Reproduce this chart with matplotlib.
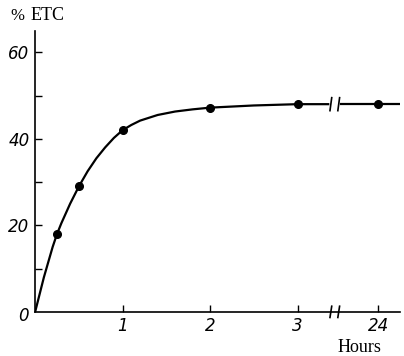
import numpy as np
import matplotlib.pyplot as plt

# measured points (hours, % ETC); 24 h is drawn after the axis break
hours = [0.25, 0.5, 1, 2, 3, 24]
etc = [18, 29, 42, 47, 48, 48]

# smooth curve
curve_h = [0, 0.05, 0.1, 0.15, 0.2, 0.25, 0.3, 0.4, 0.5, 0.6, 0.7, 0.8,
           0.9, 1, 1.1, 1.2, 1.4, 1.6, 1.8, 2, 2.5, 3, 3.35]
curve_etc = [0, 4, 8, 11.5, 15, 18, 20.5, 25, 29, 32.5, 35.5, 38, 40.2,
             42, 43.2, 44.2, 45.5, 46.3, 46.8, 47.2, 47.7, 48, 48]
tail_h = [3.5, 24, 26]
tail_etc = [48, 48, 48]

x_ticks = [1, 2, 3, 24]
x_labels = ['1', '2', '3', '24']
y_ticks = [20, 40, 60]
y_minor = [10, 30, 50]

POS24 = 3.92  # where 24 h sits on the broken axis


def xpos(h):
    # map hours to axis position (break between 3 and 24)
    h = np.asarray(h, dtype=float)
    return np.where(h <= 3.5, h, POS24 + (h - 24) * 0.12)


def main():
    fig = plt.figure(figsize=(4.04, 3.56), dpi=100)
    ax = fig.add_axes([0.087, 0.124, 0.903, 0.79])
    ax.set_xlim(0, 4.17)
    ax.set_ylim(0, 65)

    for s in ['top', 'right']:
        ax.spines[s].set_visible(False)
    for s in ['left', 'bottom']:
        ax.spines[s].set_linewidth(1.2)

    ax.plot(xpos(curve_h), curve_etc, 'k-', lw=1.6)
    ax.plot(xpos(tail_h), tail_etc, 'k-', lw=1.6)
    ax.plot(xpos(hours), etc, 'ko', ms=5.5)

    # break marks on the curve and the axis
    for xb in (3.38, 3.47):
        ax.plot([xb - 0.01, xb + 0.01], [46.5, 49.5], 'k-', lw=1.2)
        ax.plot([xb - 0.01, xb + 0.01], [-1.3, 1.3], 'k-', lw=1.2,
                clip_on=False)

    ax.set_xticks(xpos(x_ticks))
    ax.set_xticklabels(x_labels)
    ax.set_yticks(y_ticks)
    ax.set_yticks(y_minor, minor=True)
    ax.tick_params(direction='in', length=5, width=1, labelsize=12, pad=4)
    ax.tick_params(which='minor', direction='in', length=5, width=1)
    for lab in ax.get_xticklabels() + ax.get_yticklabels():
        lab.set_fontstyle('italic')
        lab.set_family('Liberation Sans Narrow')

    fig.text(0.045, 0.098, '0', fontsize=12, style='italic',
             family='Liberation Sans Narrow')
    fig.text(0.025, 0.945, '%', fontsize=12, family='Liberation Serif')
    fig.text(0.075, 0.945, 'ETC', fontsize=13, family='Liberation Serif')
    fig.text(0.835, 0.012, 'Hours', fontsize=13, family='Liberation Serif')

    fig.savefig('out.png', dpi=100)


if __name__ == '__main__':
    main()
